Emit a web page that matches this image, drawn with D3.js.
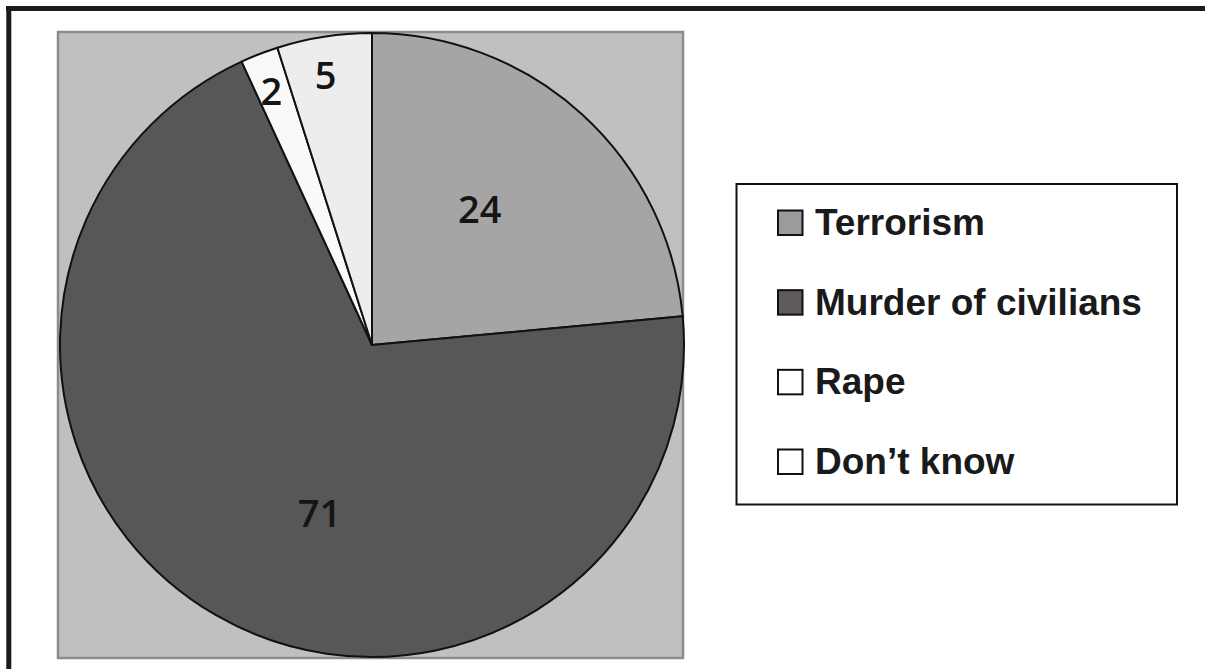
<!DOCTYPE html>
<html>
<head>
<meta charset="utf-8">
<script src="https://cdn.jsdelivr.net/npm/d3@7"></script>
<style>
  html, body { margin: 0; padding: 0; background: #fff; }
  svg { display: block; }
</style>
</head>
<body>
<svg id="chart" width="1205" height="669"></svg>
<script>
// Data
const categories = ["Terrorism", "Murder of civilians", "Rape", "Don\u2019t know"];
const values = [24, 71, 2, 5];
const sliceColors = ["#a5a5a5", "#575757", "#f9f9f9", "#ededed"];
const legendColors = ["#9b9b9b", "#5f5b5a", "#ffffff", "#ffffff"];

const svg = d3.select("#chart");

// Outer frame (top and left edges visible)
svg.append("line").attr("x1", 6).attr("x2", 1205).attr("y1", 8.5).attr("y2", 8.5)
  .attr("stroke", "#1d1a17").attr("stroke-width", 5);
svg.append("line").attr("x1", 8.8).attr("x2", 8.8).attr("y1", 6).attr("y2", 669)
  .attr("stroke", "#1d1a17").attr("stroke-width", 5);

// Plot area background
svg.append("rect").attr("x", 58).attr("y", 32).attr("width", 625).attr("height", 626)
  .attr("fill", "#c0c0c0").attr("stroke", "#8c8c8c").attr("stroke-width", 2.5);

const cx = 372, cy = 345, r = 312;
const g = svg.append("g").attr("transform", `translate(${cx},${cy})`);

const pie = d3.pie().sort(null).value(d => d.value);
const data = pie(categories.map((c, i) => ({ name: c, value: values[i], color: sliceColors[i] })));

const arc = d3.arc().innerRadius(0).outerRadius(r);

g.selectAll("path.slice").data(data).join("path")
  .attr("class", "slice")
  .attr("d", arc)
  .attr("fill", d => d.data.color)
  .attr("stroke", "#111")
  .attr("stroke-width", 2)
  .attr("stroke-linejoin", "round");

// Labels (best-fit style placement inside each slice)
const labelArc = d3.arc();
g.selectAll("text.lbl").data(data).join("text")
  .attr("class", "lbl")
  .attr("transform", d => {
    const a = d.startAngle + (d.endAngle - d.startAngle) * 0.45;
    const lr = d.data.value >= 10 ? r * 0.56 : r * 0.88;
    const [x, y] = labelArc.centroid({ startAngle: a, endAngle: a, innerRadius: lr, outerRadius: lr });
    return `translate(${x},${y})`;
  })
  .attr("text-anchor", "middle")
  .attr("dominant-baseline", "central")
  .attr("font-family", "'Open Sans', sans-serif")
  .attr("font-weight", 600)
  .attr("font-size", 38)
  .attr("fill", "#151515")
  .text(d => d.data.value);

// Legend
const legend = svg.append("g");
legend.append("rect").attr("x", 736.5).attr("y", 184).attr("width", 440.5).attr("height", 320.5)
  .attr("fill", "#fff").attr("stroke", "#111").attr("stroke-width", 2);

const rowY = d3.scalePoint().domain(categories).range([223, 462]);
const items = legend.selectAll("g.item").data(categories).join("g")
  .attr("class", "item")
  .attr("transform", d => `translate(0,${rowY(d)})`);
items.append("rect")
  .attr("x", 778).attr("y", -12.5).attr("width", 24.5).attr("height", 24.5)
  .attr("fill", (d, i) => legendColors[i])
  .attr("stroke", "#111").attr("stroke-width", 2);
items.append("text")
  .attr("x", 815).attr("y", 12)
  .attr("font-family", "'Liberation Sans', Arial, sans-serif")
  .attr("font-weight", 700)
  .attr("font-size", 37)
  .attr("fill", "#1a1a1a")
  .text(d => d);
</script>
</body>
</html>
